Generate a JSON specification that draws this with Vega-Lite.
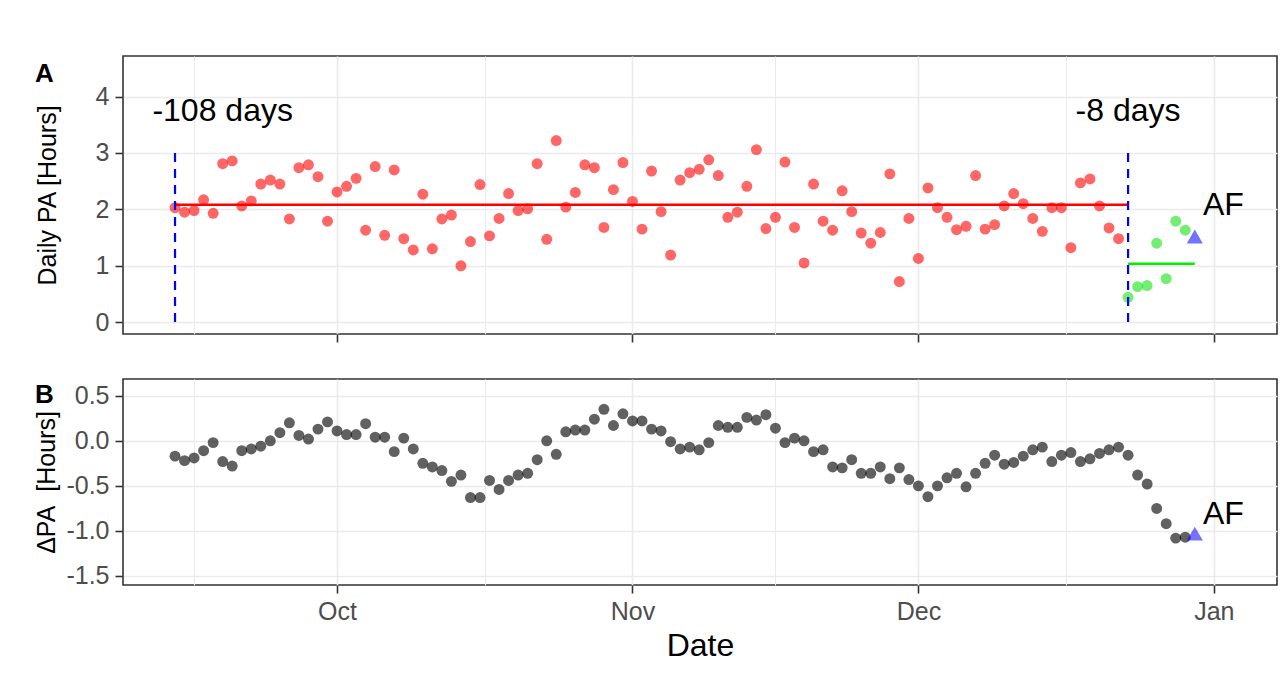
{
 "$schema": "https://vega.github.io/schema/vega-lite/v6.json",
 "background": "white",
 "padding": {"left": 34, "top": 55, "right": 8, "bottom": 0},
 "spacing": 34,
 "config": {
  "font": "Liberation Sans",
  "view": {"stroke": "#333333", "strokeWidth": 1.6},
  "axis": {"labelFont": "Liberation Sans", "titleFont": "Liberation Sans", "labelFontSize": 25, "labelColor": "#4d4d4d", "tickColor": "#333333", "tickWidth": 1.6, "tickSize": 8, "gridColor": "#ebebeb", "domain": false, "titleFontWeight": "normal", "titleColor": "#000000", "labelPadding": 6, "labelFlush": false},
  "title": {"font": "Liberation Sans", "fontWeight": "bold", "fontSize": 26, "color": "#000000", "anchor": "start", "frame": "bounds", "baseline": "top"}
 },
 "datasets": {
  "daily": [
   {"date":"2019-09-14","pa":2.03,"dpa":-0.17,"phase":"pre"},
   {"date":"2019-09-15","pa":1.95,"dpa":-0.22,"phase":"pre"},
   {"date":"2019-09-16","pa":1.98,"dpa":-0.19,"phase":"pre"},
   {"date":"2019-09-17","pa":2.17,"dpa":-0.11,"phase":"pre"},
   {"date":"2019-09-18","pa":1.93,"dpa":-0.02,"phase":"pre"},
   {"date":"2019-09-19","pa":2.81,"dpa":-0.23,"phase":"pre"},
   {"date":"2019-09-20","pa":2.86,"dpa":-0.28,"phase":"pre"},
   {"date":"2019-09-21","pa":2.06,"dpa":-0.11,"phase":"pre"},
   {"date":"2019-09-22","pa":2.15,"dpa":-0.09,"phase":"pre"},
   {"date":"2019-09-23","pa":2.45,"dpa":-0.06,"phase":"pre"},
   {"date":"2019-09-24","pa":2.52,"dpa":0.00,"phase":"pre"},
   {"date":"2019-09-25","pa":2.45,"dpa":0.09,"phase":"pre"},
   {"date":"2019-09-26","pa":1.83,"dpa":0.20,"phase":"pre"},
   {"date":"2019-09-27","pa":2.74,"dpa":0.06,"phase":"pre"},
   {"date":"2019-09-28","pa":2.79,"dpa":0.02,"phase":"pre"},
   {"date":"2019-09-29","pa":2.58,"dpa":0.13,"phase":"pre"},
   {"date":"2019-09-30","pa":1.79,"dpa":0.21,"phase":"pre"},
   {"date":"2019-10-01","pa":2.31,"dpa":0.11,"phase":"pre"},
   {"date":"2019-10-02","pa":2.41,"dpa":0.07,"phase":"pre"},
   {"date":"2019-10-03","pa":2.55,"dpa":0.07,"phase":"pre"},
   {"date":"2019-10-04","pa":1.63,"dpa":0.19,"phase":"pre"},
   {"date":"2019-10-05","pa":2.76,"dpa":0.04,"phase":"pre"},
   {"date":"2019-10-06","pa":1.54,"dpa":0.04,"phase":"pre"},
   {"date":"2019-10-07","pa":2.70,"dpa":-0.12,"phase":"pre"},
   {"date":"2019-10-08","pa":1.48,"dpa":0.03,"phase":"pre"},
   {"date":"2019-10-09","pa":1.28,"dpa":-0.09,"phase":"pre"},
   {"date":"2019-10-10","pa":2.27,"dpa":-0.25,"phase":"pre"},
   {"date":"2019-10-11","pa":1.30,"dpa":-0.29,"phase":"pre"},
   {"date":"2019-10-12","pa":1.83,"dpa":-0.33,"phase":"pre"},
   {"date":"2019-10-13","pa":1.90,"dpa":-0.45,"phase":"pre"},
   {"date":"2019-10-14","pa":1.00,"dpa":-0.38,"phase":"pre"},
   {"date":"2019-10-15","pa":1.43,"dpa":-0.63,"phase":"pre"},
   {"date":"2019-10-16","pa":2.44,"dpa":-0.63,"phase":"pre"},
   {"date":"2019-10-17","pa":1.53,"dpa":-0.44,"phase":"pre"},
   {"date":"2019-10-18","pa":1.84,"dpa":-0.54,"phase":"pre"},
   {"date":"2019-10-19","pa":2.28,"dpa":-0.44,"phase":"pre"},
   {"date":"2019-10-20","pa":1.98,"dpa":-0.38,"phase":"pre"},
   {"date":"2019-10-21","pa":2.01,"dpa":-0.36,"phase":"pre"},
   {"date":"2019-10-22","pa":2.81,"dpa":-0.21,"phase":"pre"},
   {"date":"2019-10-23","pa":1.47,"dpa":0.00,"phase":"pre"},
   {"date":"2019-10-24","pa":3.22,"dpa":-0.15,"phase":"pre"},
   {"date":"2019-10-25","pa":2.04,"dpa":0.10,"phase":"pre"},
   {"date":"2019-10-26","pa":2.30,"dpa":0.12,"phase":"pre"},
   {"date":"2019-10-27","pa":2.79,"dpa":0.12,"phase":"pre"},
   {"date":"2019-10-28","pa":2.74,"dpa":0.24,"phase":"pre"},
   {"date":"2019-10-29","pa":1.68,"dpa":0.35,"phase":"pre"},
   {"date":"2019-10-30","pa":2.35,"dpa":0.17,"phase":"pre"},
   {"date":"2019-10-31","pa":2.83,"dpa":0.30,"phase":"pre"},
   {"date":"2019-11-01","pa":2.14,"dpa":0.22,"phase":"pre"},
   {"date":"2019-11-02","pa":1.65,"dpa":0.22,"phase":"pre"},
   {"date":"2019-11-03","pa":2.68,"dpa":0.13,"phase":"pre"},
   {"date":"2019-11-04","pa":1.96,"dpa":0.11,"phase":"pre"},
   {"date":"2019-11-05","pa":1.19,"dpa":-0.01,"phase":"pre"},
   {"date":"2019-11-06","pa":2.52,"dpa":-0.09,"phase":"pre"},
   {"date":"2019-11-07","pa":2.65,"dpa":-0.07,"phase":"pre"},
   {"date":"2019-11-08","pa":2.71,"dpa":-0.10,"phase":"pre"},
   {"date":"2019-11-09","pa":2.88,"dpa":-0.02,"phase":"pre"},
   {"date":"2019-11-10","pa":2.60,"dpa":0.17,"phase":"pre"},
   {"date":"2019-11-11","pa":1.86,"dpa":0.15,"phase":"pre"},
   {"date":"2019-11-12","pa":1.95,"dpa":0.15,"phase":"pre"},
   {"date":"2019-11-13","pa":2.41,"dpa":0.26,"phase":"pre"},
   {"date":"2019-11-14","pa":3.06,"dpa":0.23,"phase":"pre"},
   {"date":"2019-11-15","pa":1.66,"dpa":0.29,"phase":"pre"},
   {"date":"2019-11-16","pa":1.86,"dpa":0.14,"phase":"pre"},
   {"date":"2019-11-17","pa":2.84,"dpa":-0.02,"phase":"pre"},
   {"date":"2019-11-18","pa":1.68,"dpa":0.03,"phase":"pre"},
   {"date":"2019-11-19","pa":1.05,"dpa":0.00,"phase":"pre"},
   {"date":"2019-11-20","pa":2.45,"dpa":-0.12,"phase":"pre"},
   {"date":"2019-11-21","pa":1.79,"dpa":-0.10,"phase":"pre"},
   {"date":"2019-11-22","pa":1.63,"dpa":-0.29,"phase":"pre"},
   {"date":"2019-11-23","pa":2.33,"dpa":-0.30,"phase":"pre"},
   {"date":"2019-11-24","pa":1.96,"dpa":-0.21,"phase":"pre"},
   {"date":"2019-11-25","pa":1.58,"dpa":-0.36,"phase":"pre"},
   {"date":"2019-11-26","pa":1.40,"dpa":-0.36,"phase":"pre"},
   {"date":"2019-11-27","pa":1.59,"dpa":-0.29,"phase":"pre"},
   {"date":"2019-11-28","pa":2.63,"dpa":-0.42,"phase":"pre"},
   {"date":"2019-11-29","pa":0.72,"dpa":-0.30,"phase":"pre"},
   {"date":"2019-11-30","pa":1.84,"dpa":-0.43,"phase":"pre"},
   {"date":"2019-12-01","pa":1.13,"dpa":-0.50,"phase":"pre"},
   {"date":"2019-12-02","pa":2.38,"dpa":-0.62,"phase":"pre"},
   {"date":"2019-12-03","pa":2.03,"dpa":-0.50,"phase":"pre"},
   {"date":"2019-12-04","pa":1.86,"dpa":-0.41,"phase":"pre"},
   {"date":"2019-12-05","pa":1.64,"dpa":-0.36,"phase":"pre"},
   {"date":"2019-12-06","pa":1.70,"dpa":-0.51,"phase":"pre"},
   {"date":"2019-12-07","pa":2.60,"dpa":-0.36,"phase":"pre"},
   {"date":"2019-12-08","pa":1.65,"dpa":-0.25,"phase":"pre"},
   {"date":"2019-12-09","pa":1.73,"dpa":-0.16,"phase":"pre"},
   {"date":"2019-12-10","pa":2.06,"dpa":-0.26,"phase":"pre"},
   {"date":"2019-12-11","pa":2.28,"dpa":-0.24,"phase":"pre"},
   {"date":"2019-12-12","pa":2.10,"dpa":-0.17,"phase":"pre"},
   {"date":"2019-12-13","pa":1.84,"dpa":-0.10,"phase":"pre"},
   {"date":"2019-12-14","pa":1.61,"dpa":-0.07,"phase":"pre"},
   {"date":"2019-12-15","pa":2.03,"dpa":-0.23,"phase":"pre"},
   {"date":"2019-12-16","pa":2.03,"dpa":-0.16,"phase":"pre"},
   {"date":"2019-12-17","pa":1.32,"dpa":-0.13,"phase":"pre"},
   {"date":"2019-12-18","pa":2.47,"dpa":-0.23,"phase":"pre"},
   {"date":"2019-12-19","pa":2.54,"dpa":-0.20,"phase":"pre"},
   {"date":"2019-12-20","pa":2.06,"dpa":-0.14,"phase":"pre"},
   {"date":"2019-12-21","pa":1.67,"dpa":-0.10,"phase":"pre"},
   {"date":"2019-12-22","pa":1.48,"dpa":-0.07,"phase":"pre"},
   {"date":"2019-12-23","pa":0.44,"dpa":-0.16,"phase":"post"},
   {"date":"2019-12-24","pa":0.63,"dpa":-0.38,"phase":"post"},
   {"date":"2019-12-25","pa":0.65,"dpa":-0.48,"phase":"post"},
   {"date":"2019-12-26","pa":1.40,"dpa":-0.75,"phase":"post"},
   {"date":"2019-12-27","pa":0.77,"dpa":-0.92,"phase":"post"},
   {"date":"2019-12-28","pa":1.79,"dpa":-1.08,"phase":"post"},
   {"date":"2019-12-29","pa":1.63,"dpa":-1.07,"phase":"post"},
   {"date":"2019-12-30","pa":1.52,"dpa":-1.03,"phase":"AF"}
  ],
  "means": [
   {"start":"2019-09-14","end":"2019-12-23","value":2.08,"phase":"pre"},
   {"start":"2019-12-23","end":"2019-12-30","value":1.035,"phase":"post"}
  ],
  "markers": [
   {"date":"2019-09-14","top":3.0,"bottom":0},
   {"date":"2019-12-23","top":3.0,"bottom":0}
  ],
  "notes": [
   {"date":"2019-09-19","value":3.74,"label":"-108 days","panel":"A"},
   {"date":"2019-12-23","value":3.74,"label":"-8 days","panel":"A"},
   {"date":"2020-01-02","value":2.08,"label":"AF","panel":"A"},
   {"date":"2020-01-02","value":-0.81,"label":"AF","panel":"B"}
  ]
 },
 "vconcat": [
  {
   "width": 1154,
   "height": 278,
   "title": {"text": "A", "offset": -31},
   "layer": [
    {
     "data": {"name": "daily"},
     "transform": [{"filter": "datum.phase === 'pre'"}],
     "mark": {"type": "circle", "size": 120, "opacity": 0.6, "color": "#ff0000"},
     "encoding": {
      "x": {"field": "date", "type": "temporal",
            "scale": {"type": "utc", "domain": [{"year":2019,"month":9,"date":8,"hours":13,"utc":true},{"year":2020,"month":1,"date":7,"hours":15,"utc":true}], "nice": false},
            "axis": {"values": [{"year":2019,"month":9,"date":16,"utc":true},{"year":2019,"month":10,"date":1,"utc":true},{"year":2019,"month":10,"date":16,"hours":12,"utc":true},{"year":2019,"month":11,"date":1,"utc":true},{"year":2019,"month":11,"date":16,"utc":true},{"year":2019,"month":12,"date":1,"utc":true},{"year":2019,"month":12,"date":16,"hours":12,"utc":true},{"year":2020,"month":1,"date":1,"utc":true}],
                     "labels": false, "title": null, "grid": true,
                     "gridWidth": {"condition": {"test": "utcdate(datum.value) === 1", "value": 1.6}, "value": 1},
                     "tickOpacity": {"condition": {"test": "utcdate(datum.value) === 1", "value": 1}, "value": 0}}},
      "y": {"field": "pa", "type": "quantitative",
            "scale": {"domain": [-0.21, 4.72], "nice": false, "zero": false},
            "axis": {"values": [0,0.5,1,1.5,2,2.5,3,3.5,4,4.5], "title": "Daily PA [Hours]", "titleFontSize": 25, "titlePadding": 35,
                     "labelExpr": "datum.value % 1 === 0 ? format(datum.value, '.0f') : ''",
                     "gridWidth": {"condition": {"test": "datum.value % 1 === 0", "value": 1.6}, "value": 1},
                     "tickOpacity": {"condition": {"test": "datum.value % 1 === 0", "value": 1}, "value": 0}}}
     }
    },
    {
     "data": {"name": "daily"},
     "transform": [{"filter": "datum.phase === 'post'"}],
     "mark": {"type": "circle", "size": 120, "opacity": 0.55, "color": "#00e000"},
     "encoding": {
      "x": {"field": "date", "type": "temporal"},
      "y": {"field": "pa", "type": "quantitative"}
     }
    },
    {
     "data": {"name": "daily"},
     "transform": [{"filter": "datum.phase === 'AF'"}],
     "mark": {"type": "point", "shape": "triangle-up", "filled": true, "size": 260, "opacity": 0.55, "color": "#0000ff"},
     "encoding": {
      "x": {"field": "date", "type": "temporal"},
      "y": {"field": "pa", "type": "quantitative"}
     }
    },
    {
     "data": {"name": "means"},
     "transform": [{"filter": "datum.phase === 'pre'"}],
     "mark": {"type": "rule", "color": "#ff0000", "strokeWidth": 2.5},
     "encoding": {
      "x": {"field": "start", "type": "temporal"},
      "x2": {"field": "end"},
      "y": {"field": "value", "type": "quantitative"}
     }
    },
    {
     "data": {"name": "means"},
     "transform": [{"filter": "datum.phase === 'post'"}],
     "mark": {"type": "rule", "color": "#00ee00", "strokeWidth": 2.5},
     "encoding": {
      "x": {"field": "start", "type": "temporal"},
      "x2": {"field": "end"},
      "y": {"field": "value", "type": "quantitative"}
     }
    },
    {
     "data": {"name": "markers"},
     "mark": {"type": "rule", "color": "#0000ff", "strokeWidth": 2.2, "strokeDash": [9, 7]},
     "encoding": {
      "x": {"field": "date", "type": "temporal"},
      "y": {"field": "top", "type": "quantitative"},
      "y2": {"field": "bottom"}
     }
    },
    {
     "data": {"name": "notes"},
     "transform": [{"filter": "datum.panel === 'A'"}],
     "mark": {"type": "text", "fontSize": 32, "font": "Liberation Sans", "color": "#000000", "align": "center", "baseline": "middle"},
     "encoding": {
      "x": {"field": "date", "type": "temporal"},
      "y": {"field": "value", "type": "quantitative"},
      "text": {"field": "label"}
     }
    }
   ]
  },
  {
   "width": 1154,
   "height": 206,
   "title": {"text": "B", "offset": -29},
   "layer": [
    {
     "data": {"name": "daily"},
     "transform": [{"filter": "datum.phase !== 'AF'"}],
     "mark": {"type": "circle", "size": 120, "opacity": 0.62, "color": "#000000"},
     "encoding": {
      "x": {"field": "date", "type": "temporal",
            "scale": {"type": "utc", "domain": [{"year":2019,"month":9,"date":8,"hours":13,"utc":true},{"year":2020,"month":1,"date":7,"hours":15,"utc":true}], "nice": false},
            "axis": {"values": [{"year":2019,"month":9,"date":16,"utc":true},{"year":2019,"month":10,"date":1,"utc":true},{"year":2019,"month":10,"date":16,"hours":12,"utc":true},{"year":2019,"month":11,"date":1,"utc":true},{"year":2019,"month":11,"date":16,"utc":true},{"year":2019,"month":12,"date":1,"utc":true},{"year":2019,"month":12,"date":16,"hours":12,"utc":true},{"year":2020,"month":1,"date":1,"utc":true}],
                     "labelExpr": "utcdate(datum.value) === 1 ? utcFormat(datum.value, '%b') : ''",
                     "title": "Date", "titleFontSize": 32, "titlePadding": 6, "grid": true,
                     "gridWidth": {"condition": {"test": "utcdate(datum.value) === 1", "value": 1.6}, "value": 1},
                     "tickOpacity": {"condition": {"test": "utcdate(datum.value) === 1", "value": 1}, "value": 0}}},
      "y": {"field": "dpa", "type": "quantitative",
            "scale": {"domain": [-1.6, 0.686], "nice": false, "zero": false},
            "axis": {"values": [-1.5,-1.25,-1,-0.75,-0.5,-0.25,0,0.25,0.5], "title": "ΔPA\u00a0 [Hours]", "titleFontSize": 25, "titlePadding": 6,
                     "labelExpr": "abs(datum.value * 2 - round(datum.value * 2)) < 0.001 ? (datum.value < 0 ? '-' : '') + format(abs(datum.value), '.1f') : ''",
                     "gridWidth": {"condition": {"test": "abs(datum.value * 2 - round(datum.value * 2)) < 0.001", "value": 1.6}, "value": 1},
                     "tickOpacity": {"condition": {"test": "abs(datum.value * 2 - round(datum.value * 2)) < 0.001", "value": 1}, "value": 0}}}
     }
    },
    {
     "data": {"name": "daily"},
     "transform": [{"filter": "datum.phase === 'AF'"}],
     "mark": {"type": "point", "shape": "triangle-up", "filled": true, "size": 260, "opacity": 0.55, "color": "#0000ff"},
     "encoding": {
      "x": {"field": "date", "type": "temporal"},
      "y": {"field": "dpa", "type": "quantitative"}
     }
    },
    {
     "data": {"name": "notes"},
     "transform": [{"filter": "datum.panel === 'B'"}],
     "mark": {"type": "text", "fontSize": 32, "font": "Liberation Sans", "color": "#000000", "align": "center", "baseline": "middle"},
     "encoding": {
      "x": {"field": "date", "type": "temporal"},
      "y": {"field": "value", "type": "quantitative"},
      "text": {"field": "label"}
     }
    }
   ]
  }
 ]
}
